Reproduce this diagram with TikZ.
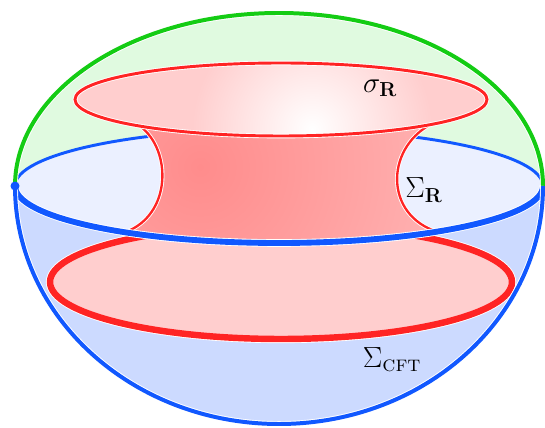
\documentclass[tikz,border=0pt]{standalone}
\usepackage{amsmath}
\usepackage{xcolor}
\usepackage{tikz}
\definecolor{bulkGreen}{HTML}{14CC14}
\definecolor{capGreen}{HTML}{E0FAE0}
\definecolor{sliceBlue}{HTML}{1158FF}
\definecolor{sliceFill}{HTML}{EBF0FF}
\definecolor{lowBlue}{HTML}{CCDAFF}
\definecolor{surfRed}{HTML}{FF2424}
\definecolor{surfFill}{HTML}{FFCECE}
\definecolor{throatDark}{HTML}{FF8C8C}
\definecolor{throatLight}{HTML}{FFC6C6}

\begin{document}
\begin{tikzpicture}[
  x=0.03cm,y=0.03cm,
  halo/.style={preaction={draw=white,line width=#1}},
  rim/.style={line width=3.4pt,halo=5pt},
  lbl/.style={font=\fontsize{27}{30}\selectfont,inner sep=0pt}
]
\useasboundingbox (0,0) rectangle (545,427);
% sphere caps
\fill[capGreen] (15,241) arc[start angle=180,end angle=0,x radius=264,y radius=173] -- cycle;
\fill[lowBlue] (15,241) arc[start angle=180,end angle=360,x radius=264,y radius=238]
  arc[start angle=0,end angle=-180,x radius=264,y radius=57];
\fill[sliceFill] (279,241) ellipse[x radius=264,y radius=57];
% boundary surface
\draw[surfRed,fill=surfFill,line width=5.5pt,halo=7pt] (281,145) ellipse[x radius=231,y radius=57];
\draw[sliceBlue,line width=2.5pt] (543,241) arc[start angle=0,end angle=180,x radius=264,y radius=57];
% throat
\begin{scope}
  \clip (140,300.9) .. controls (172,277) and (172,212) .. (125,194.7)
    arc[start angle=234.3,end angle=306.7,x radius=264,y radius=57]
    .. controls (385,212) and (385,277) .. (430,302.3) -- cycle;
  \shade[inner color=throatDark,outer color=throatLight] (200,260) circle (380);
\end{scope}
\draw[surfRed,line width=2pt,halo=3.5pt] (140,300.9) .. controls (172,277) and (172,212) .. (125,194.7);
\draw[surfRed,line width=2pt,halo=3.5pt] (430,302.3) .. controls (385,277) and (385,212) .. (437,195.3);
\draw[sliceBlue,line width=5pt,halo=6.5pt] (15,241) arc[start angle=180,end angle=360,x radius=264,y radius=57];
% top disc
\begin{scope}
  \clip (281,327.5) ellipse[x radius=206,y radius=36.5];
  \fill[surfFill] (281,327.5) ellipse[x radius=206,y radius=36.5];
  \shade[inner color=white,outer color=surfFill] (312,298) circle (120);
\end{scope}
\draw[surfRed,line width=2.5pt,halo=4pt] (281,327.5) ellipse[x radius=206,y radius=36.5];
% outer sphere
\draw[rim,draw=bulkGreen] (15,241) arc[start angle=180,end angle=0,x radius=264,y radius=173];
\draw[rim,draw=sliceBlue] (15,241) arc[start angle=180,end angle=360,x radius=264,y radius=238];
\fill[sliceBlue] (15,241) circle (4.5);
% labels
\node[lbl] (sigR) at (380,339) {$\sigma_{\mathbf{R}}$};
\node[lbl] (SigR) at (424,237) {$\Sigma_{\mathbf{R}}$};
\node[lbl] (SigCFT) at (392,67) {$\Sigma_{\textsc{cft}}$};
\end{tikzpicture}
\end{document}
